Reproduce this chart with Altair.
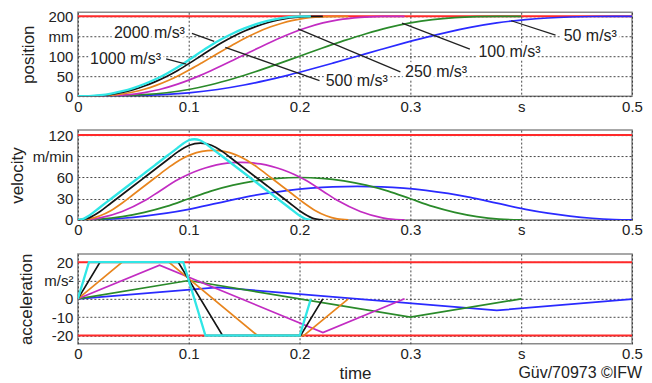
import altair as alt
import pandas as pd

FONT = "Liberation Sans"
TXT = "#222222"

series_names = ["50 m/s³", "100 m/s³", "250 m/s³", "500 m/s³", "1000 m/s³", "2000 m/s³"]
series_colors = ["#2a2aff", "#2a8a2a", "#c22cc2", "#e8851e", "#151515", "#30e6e6"]
series_widths = [1.7, 1.7, 1.7, 1.7, 1.7, 2.3]

# ---- position (mm) and velocity (m/min) ----
t_blue = [0, 0.02, 0.04, 0.06, 0.08, 0.1, 0.126, 0.15, 0.17, 0.19, 0.21, 0.23, 0.252, 0.274, 0.294, 0.314,
          0.334, 0.354, 0.378, 0.404, 0.424, 0.444, 0.464, 0.484, 0.5]
v_blue = [0, 0.6, 2.4, 5.4, 9.6, 15, 23.8, 32.0, 37.5, 41.9, 45.0, 46.9, 47.6, 46.9, 45.0, 41.9,
          37.5, 32.0, 23.8, 15, 9.6, 5.4, 2.4, 0.6, 0]
s_blue = [0, 0.07, 0.53, 1.8, 4.27, 8.33, 16.67, 27.9, 39.52, 52.79, 67.3, 82.65, 100, 117.35, 132.7, 147.21,
          160.48, 172.1, 183.33, 191.67, 195.73, 198.2, 199.47, 199.93, 200]

t_green = [0, 0.02, 0.04, 0.06, 0.08, 0.1, 0.12, 0.14, 0.16, 0.18, 0.2, 0.22, 0.24, 0.26, 0.28, 0.3,
           0.32, 0.34, 0.36, 0.38, 0.4]
v_green = [0, 1.2, 4.8, 10.8, 19.2, 30, 40.8, 49.2, 55.2, 58.8, 60, 58.8, 55.2, 49.2, 40.8, 30,
           19.2, 10.8, 4.8, 1.2, 0]
s_green = [0, 0.13, 1.07, 3.6, 8.53, 16.67, 28.53, 43.6, 61.07, 80.13, 100, 119.87, 138.93, 156.4, 171.47, 183.33,
           191.47, 196.4, 198.93, 199.87, 200]

t_magenta = [0, 0.01, 0.02, 0.04, 0.06, 0.0737, 0.09, 0.1, 0.11, 0.12, 0.13, 0.14, 0.1474, 0.1548, 0.1648,
             0.1748, 0.1848, 0.1948, 0.2048, 0.2211, 0.2348, 0.2548, 0.2748, 0.2848, 0.2948]
v_magenta = [0, 0.75, 3, 12, 27, 40.7, 56.8, 64.6, 71.0, 75.8, 79.2, 81.0, 81.5, 81.0, 79.2,
             75.8, 71.0, 64.6, 56.8, 40.7, 27, 12, 3, 0.75, 0]
s_magenta = [0, 0.04, 0.33, 2.67, 9.0, 16.68, 30.02, 40.15, 51.48, 63.73, 76.66, 90.04, 100, 109.96, 123.34,
             136.27, 148.52, 159.85, 169.98, 183.32, 191.0, 197.33, 199.67, 199.96, 200]

t_orange = [0, 0.01, 0.02, 0.03, 0.04, 0.05, 0.06, 0.07, 0.082, 0.092, 0.102, 0.112, 0.122, 0.132, 0.142,
            0.152, 0.162, 0.174, 0.184, 0.194, 0.204, 0.214, 0.224, 0.234, 0.244]
v_orange = [0, 1.5, 6, 13.5, 24, 36, 48, 60, 74.4, 84.9, 92.4, 96.9, 98.4, 96.9, 92.4,
            84.9, 74.4, 60, 48, 36, 24, 13.5, 6, 1.5, 0]
s_orange = [0, 0.08, 0.67, 2.25, 5.33, 10.33, 17.33, 26.33, 39.77, 53.09, 67.9, 83.72, 100, 116.28, 132.1,
            146.91, 160.23, 173.67, 182.67, 189.67, 194.67, 197.75, 199.33, 199.92, 200]

t_black = [0, 0.01, 0.02, 0.03, 0.04, 0.05, 0.06, 0.07, 0.08, 0.0905, 0.1005, 0.1105, 0.1205, 0.1305,
           0.141, 0.151, 0.161, 0.171, 0.181, 0.191, 0.201, 0.211, 0.221]
v_black = [0, 3, 12, 24, 36, 48, 60, 72, 84, 96.6, 105.6, 108.6, 105.6, 96.6,
           84, 72, 60, 48, 36, 24, 12, 3, 0]
s_black = [0, 0.17, 1.33, 4.33, 9.33, 16.33, 25.33, 36.33, 49.33, 65.13, 82.06, 100, 117.94, 134.87,
           150.67, 163.67, 174.67, 183.67, 190.67, 195.67, 198.67, 199.83, 200]

t_cyan = [0, 0.005, 0.01, 0.02, 0.03, 0.04, 0.05, 0.06, 0.07, 0.08, 0.09, 0.0951, 0.1001, 0.1051, 0.1101,
          0.1151, 0.1202, 0.1302, 0.1402, 0.1502, 0.1602, 0.1702, 0.1802, 0.1902, 0.2002, 0.2052, 0.2102]
v_cyan = [0, 1.5, 6, 18, 30, 42, 54, 66, 78, 90, 102, 108.1, 112.6, 114.1, 112.6,
          108.1, 102, 90, 78, 66, 54, 42, 30, 18, 6, 1.5, 0]
s_cyan = [0, 0.04, 0.33, 2.33, 6.33, 12.33, 20.33, 30.33, 42.33, 56.33, 72.33, 81.25, 90.47, 100, 109.53,
          118.75, 127.67, 143.67, 157.67, 169.67, 179.67, 187.67, 193.67, 197.67, 199.67, 199.96, 200]

# ---- acceleration (m/s²) breakpoints ----
ta_blue, a_blue = [0, 0.126, 0.378, 0.5], [0, 6.3, -6.3, -0.2]
ta_green, a_green = [0, 0.1, 0.3, 0.4], [0, 10, -10, 0]
ta_magenta, a_magenta = [0, 0.0737, 0.2211, 0.2948], [0, 18.4, -18.4, 0]
ta_orange, a_orange = [0, 0.04, 0.082, 0.162, 0.204, 0.244], [0, 20, 20, -20, -20, 0]
ta_black, a_black = [0, 0.02, 0.0905, 0.1305, 0.201, 0.221], [0, 20, 20, -20, -20, 0]
ta_cyan, a_cyan = [0, 0.01, 0.0951, 0.1151, 0.2002, 0.2102], [0, 20, 20, -20, -20, 0]

# ---- limits ----
pos_limit = [200]
vel_limit = [120]
acc_limit = [20, -20]

# ---- annotations in position panel ----
ann_labels = ["2000 m/s³", "1000 m/s³", "500 m/s³", "250 m/s³", "100 m/s³", "50 m/s³"]
ann_t = [0.0966, 0.0751, 0.2236, 0.2952, 0.3614, 0.4383]
ann_s = [157, 93.5, 38.3, 61, 110, 151.4]
ann_side = ["right", "right", "left", "left", "left", "left"]
lead_t1 = [0.1029, 0.0796, 0.133, 0.1986, 0.2925, 0.391]
lead_s1 = [157, 93.5, 122, 168.5, 183, 188.8]
lead_t2 = [0.123, 0.0978, 0.218, 0.291, 0.3537, 0.431]
lead_s2 = [137, 80, 39, 61, 118, 153]

credit = "Güv/70973 ©IFW"

X_TICKS = [0, 0.1, 0.2, 0.3, 0.4, 0.5]
PLOT_W = 555

pos_sets = [(t_blue, s_blue), (t_green, s_green), (t_magenta, s_magenta),
            (t_orange, s_orange), (t_black, s_black), (t_cyan, s_cyan)]
vel_sets = [(t_blue, v_blue), (t_green, v_green), (t_magenta, v_magenta),
            (t_orange, v_orange), (t_black, v_black), (t_cyan, v_cyan)]
acc_sets = [(ta_blue, a_blue), (ta_green, a_green), (ta_magenta, a_magenta),
            (ta_orange, a_orange), (ta_black, a_black), (ta_cyan, a_cyan)]

X_EXPR = ("abs(datum.value - 0.4) < 1e-6 ? 's' : "
          "(datum.value == 0 ? '0' : format(datum.value, '.1f'))")


def x_enc(title):
    axis_kw = dict(values=X_TICKS, labelExpr=X_EXPR, grid=True, title=title)
    return alt.X("t:Q", scale=alt.Scale(domain=[0, 0.5], nice=False, zero=False), axis=alt.Axis(**axis_kw))


def y_enc(title, title_x, domain, ticks, unit_value, unit_label):
    expr = ("abs(datum.value - (%s)) < 1e-6 ? '%s' : "
            "(datum.value < 0 ? '-' + format(-datum.value, 'd') : format(datum.value, 'd'))"
            % (unit_value, unit_label))
    return alt.Y("val:Q", scale=alt.Scale(domain=domain, nice=False, zero=False),
                 axis=alt.Axis(values=ticks, labelExpr=expr, title=title, titleX=title_x, grid=True,
                               titleAngle=270, titleBaseline="alphabetic", titleAlign="center"))


def panel(sets, limits, title, title_x, domain, ticks, unit_value, unit_label, x_title, interp):
    yy = y_enc(title, title_x, domain, ticks, unit_value, unit_label)
    xx = x_enc(x_title)
    layers = [
        alt.Chart(pd.DataFrame({"t": [0.0] * len(limits), "val": limits}))
        .mark_rule(color="#ff2a2a", strokeWidth=2).encode(y=yy)
    ]
    for (tt, vv), col, w in zip(sets, series_colors, series_widths):
        df = pd.DataFrame({"t": tt, "val": vv})
        layers.append(
            alt.Chart(df).mark_line(color=col, strokeWidth=w, interpolate=interp, clip=True)
            .encode(x=xx, y=yy)
        )
    return layers, xx, yy


# position panel
p_layers, pxx, pyy = panel(pos_sets, pos_limit, "position", -44, [0, 210], [0, 50, 100, 150, 200], 150, "mm",
                           None, "monotone")
ann_df = pd.DataFrame({"t": ann_t, "val": ann_s, "label": ann_labels, "side": ann_side})
lead_df = pd.DataFrame({"t": lead_t1, "val": lead_s1, "t2": lead_t2, "val2": lead_s2})
for side in ["right", "left"]:
    base = alt.Chart(ann_df).transform_filter(alt.datum.side == side)
    p_layers.append(base.mark_text(align=side, baseline="middle", font=FONT, fontSize=16,
                                   stroke="white", strokeWidth=6, color="white")
                    .encode(x=pxx, y=pyy, text="label:N"))
p_layers.append(alt.Chart(lead_df).mark_rule(color="#222222", strokeWidth=1.3)
                .encode(x=pxx, y=pyy, x2="t2:Q", y2="val2:Q"))
for side in ["right", "left"]:
    base = alt.Chart(ann_df).transform_filter(alt.datum.side == side)
    p_layers.append(base.mark_text(align=side, baseline="middle", font=FONT, fontSize=16, color=TXT)
                    .encode(x=pxx, y=pyy, text="label:N"))
p1 = alt.layer(*p_layers).properties(width=PLOT_W, height=84)

v_layers, _, _ = panel(vel_sets, vel_limit, "velocity", -55, [0, 127], [0, 30, 60, 90, 120], 90, "m/min",
                       None, "monotone")
p2 = alt.layer(*v_layers).properties(width=PLOT_W, height=90)

a_layers, _, _ = panel(acc_sets, acc_limit, "acceleration", -46, [-24.5, 24.5], [-20, -10, 0, 10, 20], 10,
                       "m/s²", "time", "linear")
a_layers.append(alt.Chart(pd.DataFrame({"label": [credit]}))
                .mark_text(align="right", baseline="middle", font=FONT, fontSize=16, color=TXT)
                .encode(x=alt.value(565), y=alt.value(119), text="label:N"))
p3 = alt.layer(*a_layers).properties(width=PLOT_W, height=90)

chart = (
    alt.vconcat(p1, p2, p3, spacing=34, bounds="flush")
    .properties(padding={"left": 0, "top": 0, "right": 0, "bottom": 0}, background="white")
    .configure_view(stroke="#8a8a8a", strokeWidth=1.5)
    .configure_axis(
        labelFont=FONT, labelFontSize=15, labelColor=TXT, labelFlush=False, labelOverlap=False,
        labelPadding=3, ticks=False, domain=False,
        titleFont=FONT, titleFontSize=17, titleFontWeight="normal", titleColor=TXT, titlePadding=4,
        grid=True, gridColor="#333333", gridDash=[2, 2], gridWidth=1, gridOpacity=0.9,
    )
    .configure_axisY(labelPadding=5)
)

chart.save("out.html", embed_options={"renderer": "svg", "actions": False})
